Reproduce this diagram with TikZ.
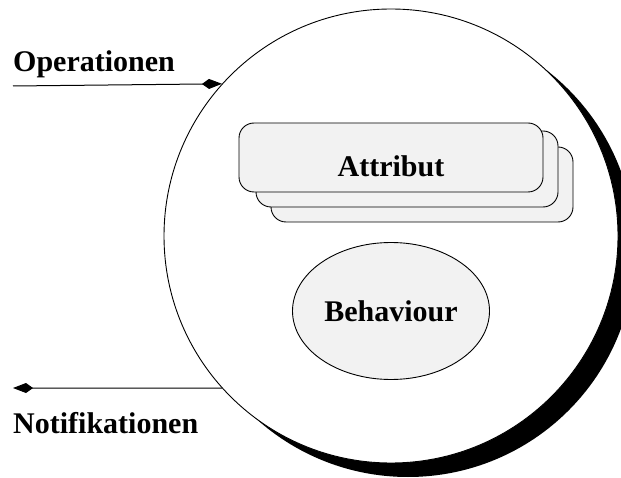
\documentclass[tikz,border=0pt]{standalone}
\usepackage{fontspec}
\setmainfont{Liberation Serif}
\usetikzlibrary{arrows.meta,shapes.geometric}
\definecolor{boxfill}{HTML}{F2F2F2}
\tikzset{
  lbl/.style={font=\fontsize{30}{34}\selectfont\bfseries, inner sep=0pt},
  attrbox/.style={draw=black, line width=0.9pt, fill=boxfill, rounded corners=15pt,
                  rectangle, inner sep=0pt},
  flow/.style={draw=black, line width=1pt,
               -{Kite[length=20pt,width=10pt,inset=7pt]}},
}
\begin{document}
\begin{tikzpicture}[x=1pt,y=-1pt]
  \useasboundingbox (0,0) rectangle (621,478);
  \clip (0,0) rectangle (621,478);

  % drop shadow behind the object
  \fill[black] (408,250) circle[radius=227pt];
  % the managed object
  \node[circle, draw=black, line width=0.9pt, fill=white, minimum size=454pt,
        inner sep=0pt] (obj) at (391,236) {};

  % stacked attribute boxes, back to front
  \node[attrbox, minimum width=302pt, minimum height=75pt] (attr3) at (422,184.5) {};
  \node[attrbox, minimum width=302pt, minimum height=76pt] (attr2) at (407,169) {};
  \node[attrbox, minimum width=304pt, minimum height=69pt] (attr1) at (391,157.5) {};
  \node[lbl, anchor=base] (attrlabel) at (391,177) {Attribut};

  % behaviour
  \node[ellipse, draw=black, line width=0.9pt, fill=boxfill, minimum width=197pt,
        minimum height=137pt, inner sep=0pt, font=\fontsize{30}{34}\selectfont\bfseries]
        (beh) at (391,311) {Behaviour};

  % operations coming in, notifications going out
  \node[lbl, anchor=base west] (ops) at (13,72) {Operationen};
  \coordinate (opsstart) at (13,86);
  \draw[flow] (opsstart) -- (obj.138.6);

  \node[lbl, anchor=base west] (notif) at (13,433) {Notifikationen};
  \coordinate (notifend) at (13,388);
  \draw[flow] (obj.222) -- (notifend);
\end{tikzpicture}
\end{document}
